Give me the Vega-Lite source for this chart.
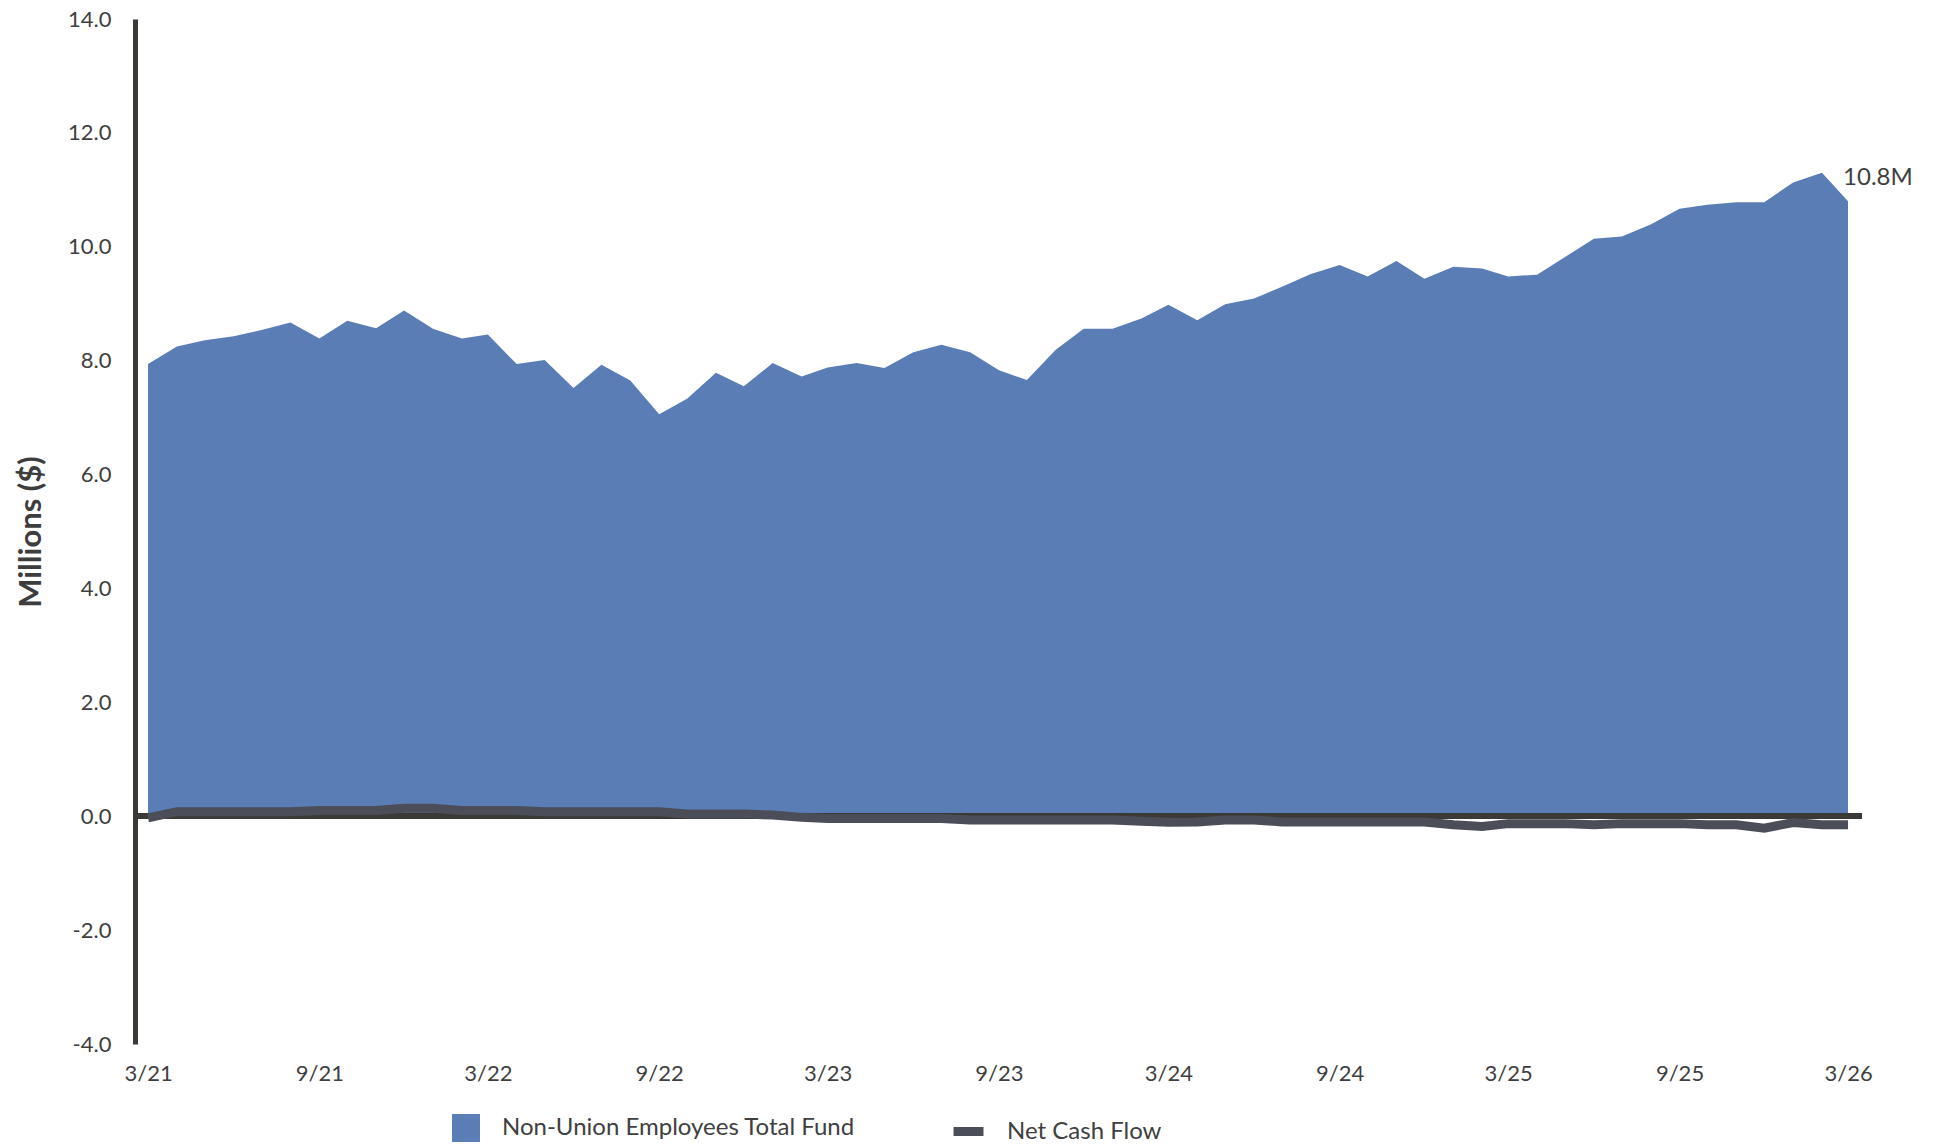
{
  "$schema": "https://vega.github.io/schema/vega-lite/v6.json",
  "width": 1727,
  "height": 1025,
  "autosize": {"type": "none"},
  "padding": {"left": 135, "top": 19, "right": 73, "bottom": 102},
  "background": "#ffffff",
  "config": {
    "font": "Lato",
    "view": {"stroke": null}
  },
  "data": {
    "format": {"parse": {"date": "date"}},
    "values": [
      {"date": "2021-03-01", "fund": 7.94, "flow": -0.03},
      {"date": "2021-04-01", "fund": 8.25, "flow": 0.08},
      {"date": "2021-05-01", "fund": 8.36, "flow": 0.08},
      {"date": "2021-06-01", "fund": 8.43, "flow": 0.08},
      {"date": "2021-07-01", "fund": 8.54, "flow": 0.08},
      {"date": "2021-08-01", "fund": 8.67, "flow": 0.08},
      {"date": "2021-09-01", "fund": 8.39, "flow": 0.1},
      {"date": "2021-10-01", "fund": 8.70, "flow": 0.1},
      {"date": "2021-11-01", "fund": 8.57, "flow": 0.1},
      {"date": "2021-12-01", "fund": 8.88, "flow": 0.14},
      {"date": "2022-01-01", "fund": 8.56, "flow": 0.14},
      {"date": "2022-02-01", "fund": 8.39, "flow": 0.1},
      {"date": "2022-03-01", "fund": 8.46, "flow": 0.1},
      {"date": "2022-04-01", "fund": 7.94, "flow": 0.1},
      {"date": "2022-05-01", "fund": 8.01, "flow": 0.08},
      {"date": "2022-06-01", "fund": 7.52, "flow": 0.08},
      {"date": "2022-07-01", "fund": 7.93, "flow": 0.08},
      {"date": "2022-08-01", "fund": 7.65, "flow": 0.08},
      {"date": "2022-09-01", "fund": 7.06, "flow": 0.08},
      {"date": "2022-10-01", "fund": 7.33, "flow": 0.04},
      {"date": "2022-11-01", "fund": 7.79, "flow": 0.04},
      {"date": "2022-12-01", "fund": 7.55, "flow": 0.04},
      {"date": "2023-01-01", "fund": 7.96, "flow": 0.02},
      {"date": "2023-02-01", "fund": 7.72, "flow": -0.02},
      {"date": "2023-03-01", "fund": 7.88, "flow": -0.04},
      {"date": "2023-04-01", "fund": 7.96, "flow": -0.04},
      {"date": "2023-05-01", "fund": 7.87, "flow": -0.04},
      {"date": "2023-06-01", "fund": 8.15, "flow": -0.04},
      {"date": "2023-07-01", "fund": 8.28, "flow": -0.04},
      {"date": "2023-08-01", "fund": 8.15, "flow": -0.065},
      {"date": "2023-09-01", "fund": 7.83, "flow": -0.065},
      {"date": "2023-10-01", "fund": 7.66, "flow": -0.065},
      {"date": "2023-11-01", "fund": 8.19, "flow": -0.065},
      {"date": "2023-12-01", "fund": 8.56, "flow": -0.065},
      {"date": "2024-01-01", "fund": 8.56, "flow": -0.065},
      {"date": "2024-02-01", "fund": 8.74, "flow": -0.09},
      {"date": "2024-03-01", "fund": 8.98, "flow": -0.105},
      {"date": "2024-04-01", "fund": 8.71, "flow": -0.1},
      {"date": "2024-05-01", "fund": 8.99, "flow": -0.065},
      {"date": "2024-06-01", "fund": 9.09, "flow": -0.065},
      {"date": "2024-07-01", "fund": 9.30, "flow": -0.1},
      {"date": "2024-08-01", "fund": 9.52, "flow": -0.1},
      {"date": "2024-09-01", "fund": 9.68, "flow": -0.1},
      {"date": "2024-10-01", "fund": 9.48, "flow": -0.1},
      {"date": "2024-11-01", "fund": 9.75, "flow": -0.1},
      {"date": "2024-12-01", "fund": 9.44, "flow": -0.1},
      {"date": "2025-01-01", "fund": 9.65, "flow": -0.15},
      {"date": "2025-02-01", "fund": 9.62, "flow": -0.18},
      {"date": "2025-03-01", "fund": 9.48, "flow": -0.13},
      {"date": "2025-04-01", "fund": 9.51, "flow": -0.13},
      {"date": "2025-05-01", "fund": 9.82, "flow": -0.13},
      {"date": "2025-06-01", "fund": 10.14, "flow": -0.15},
      {"date": "2025-07-01", "fund": 10.18, "flow": -0.13},
      {"date": "2025-08-01", "fund": 10.39, "flow": -0.13},
      {"date": "2025-09-01", "fund": 10.67, "flow": -0.13},
      {"date": "2025-10-01", "fund": 10.74, "flow": -0.15},
      {"date": "2025-11-01", "fund": 10.78, "flow": -0.15},
      {"date": "2025-12-01", "fund": 10.78, "flow": -0.21},
      {"date": "2026-01-01", "fund": 11.13, "flow": -0.11},
      {"date": "2026-02-01", "fund": 11.30, "flow": -0.15},
      {"date": "2026-03-01", "fund": 10.8, "flow": -0.15}
    ]
  },
  "layer": [
    {
      "mark": {"type": "area", "interpolate": "linear"},
      "encoding": {
        "x": {
          "field": "date",
          "type": "temporal",
          "scale": {
            "type": "utc",
            "domain": [
              {"year": 2021, "month": 2, "date": 15, "utc": true},
              {"year": 2026, "month": 3, "date": 16, "utc": true}
            ]
          },
          "axis": {
            "title": null,
            "domain": false,
            "ticks": false,
            "grid": false,
            "format": "%-m/%y",
            "values": [
              {"year": 2021, "month": 3, "date": 1, "utc": true},
              {"year": 2021, "month": 9, "date": 1, "utc": true},
              {"year": 2022, "month": 3, "date": 1, "utc": true},
              {"year": 2022, "month": 9, "date": 1, "utc": true},
              {"year": 2023, "month": 3, "date": 1, "utc": true},
              {"year": 2023, "month": 9, "date": 1, "utc": true},
              {"year": 2024, "month": 3, "date": 1, "utc": true},
              {"year": 2024, "month": 9, "date": 1, "utc": true},
              {"year": 2025, "month": 3, "date": 1, "utc": true},
              {"year": 2025, "month": 9, "date": 1, "utc": true},
              {"year": 2026, "month": 3, "date": 1, "utc": true}
            ],
            "labelFontSize": 22,
            "labelColor": "#3f3f3f",
            "labelPadding": 19,
            "labelFlush": false,
            "labelOverlap": false
          }
        },
        "y": {
          "field": "fund",
          "type": "quantitative",
          "scale": {"domain": [-4, 14], "nice": false, "zero": false},
          "axis": {
            "title": "Millions ($)",
            "titleFontSize": 31,
            "titleFontWeight": "bold",
            "titleColor": "#3d3d3d",
            "titlePadding": 20,
            "values": [-4, -2, 0, 2, 4, 6, 8, 10, 12, 14],
            "labelExpr": "replace(format(datum.value, '.1f'), '\u2212', '-')",
            "labelFontSize": 22,
            "labelColor": "#3f3f3f",
            "labelPadding": 24,
            "ticks": false,
            "grid": false,
            "domainColor": "#3b3a36",
            "domainWidth": 5
          }
        },
        "fill": {
          "datum": "Non-Union Employees Total Fund",
          "type": "nominal",
          "scale": {"range": ["#5b7db6"]},
          "legend": {
            "title": null,
            "orient": "none",
            "legendX": 317,
            "legendY": 1095,
            "padding": 0,
            "symbolType": "square",
            "symbolSize": 784,
            "symbolStrokeWidth": 0,
            "labelFontSize": 24,
            "labelColor": "#404040",
            "labelOffset": 22,
            "labelLimit": 600
          }
        }
      }
    },
    {
      "mark": {"type": "rule", "color": "#3b3a36", "strokeWidth": 5},
      "encoding": {
        "y": {"datum": 0, "type": "quantitative"}
      }
    },
    {
      "mark": {"type": "line", "strokeWidth": 9, "strokeCap": "butt", "strokeJoin": "miter"},
      "encoding": {
        "x": {"field": "date", "type": "temporal"},
        "y": {"field": "flow", "type": "quantitative"},
        "stroke": {
          "datum": "Net Cash Flow",
          "type": "nominal",
          "scale": {"range": ["#4b4e58"]},
          "legend": {
            "title": null,
            "orient": "none",
            "legendX": 814,
            "legendY": 1093,
            "padding": 0,
            "symbolType": "stroke",
            "symbolSize": 900,
            "symbolStrokeWidth": 9,
            "labelFontSize": 24,
            "labelColor": "#404040",
            "labelOffset": 19,
            "labelLimit": 600
          }
        }
      }
    },
    {
      "transform": [
        {"filter": "utcyear(datum.date) == 2026 && utcmonth(datum.date) == 2"},
        {"calculate": "format(datum.fund, '.1f') + 'M'", "as": "label"}
      ],
      "mark": {"type": "text", "align": "left", "baseline": "middle", "dx": -5, "dy": -23, "fontSize": 24, "color": "#3f3f3f"},
      "encoding": {
        "x": {"field": "date", "type": "temporal"},
        "y": {"field": "fund", "type": "quantitative"},
        "text": {"field": "label", "type": "nominal"}
      }
    }
  ]
}
